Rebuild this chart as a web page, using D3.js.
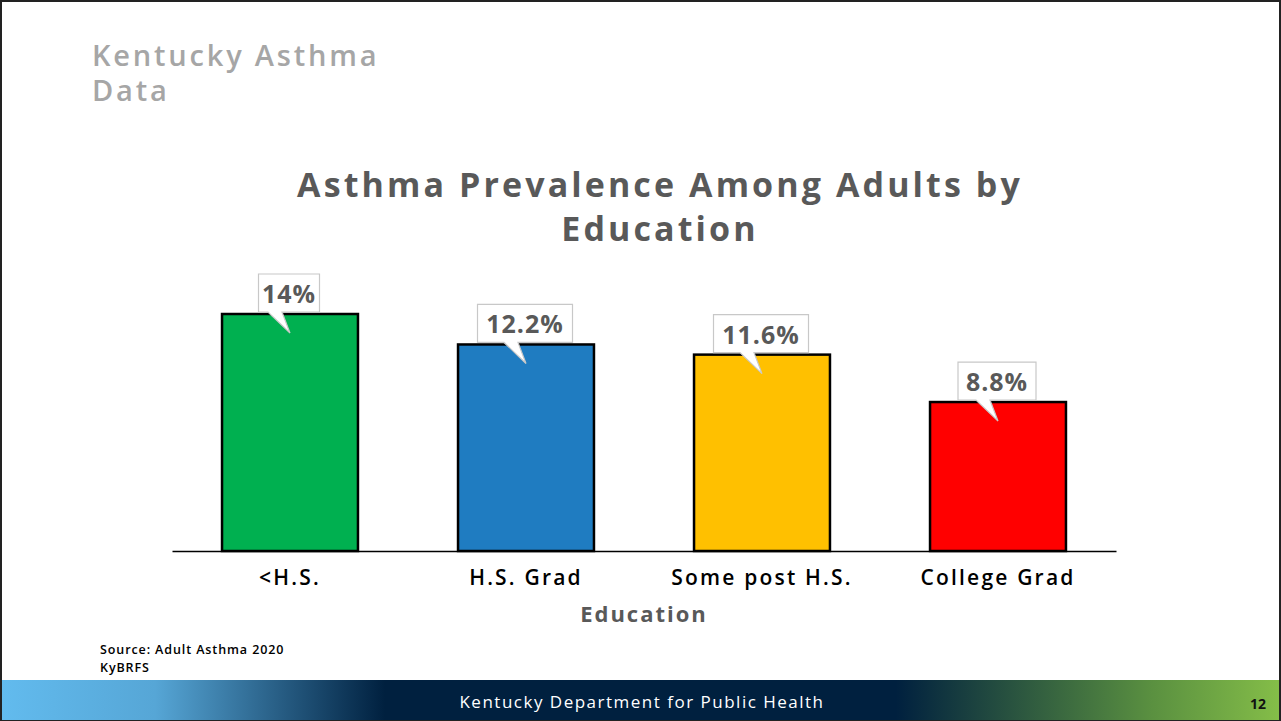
<!DOCTYPE html>
<html><head><meta charset="utf-8">
<script src="https://cdn.jsdelivr.net/npm/d3@7"></script>
<style>body{margin:0;background:#fff}svg{display:block;font-family:"Open Sans","Noto Sans",sans-serif}</style>
</head><body><svg id="c" width="1281" height="721"></svg>
<script>
// data
const categories = ['<H.S.', 'H.S. Grad', 'Some post H.S.', 'College Grad'];
const values = [14, 12.2, 11.6, 8.8];
const valueLabels = ['14%', '12.2%', '11.6%', '8.8%'];
const colors = ['#00b050', '#1f7cc1', '#ffc000', '#ff0000'];

const svg = d3.select('#c');

// footer gradient
const defs = svg.append('defs');
const grad = defs.append('linearGradient').attr('id', 'foot');
[[0, '#62bbee'], [0.12, '#56a6d6'], [0.3, '#00203f'], [0.7, '#00203f'], [0.9, '#5a9040'], [1, '#84bd48']]
  .forEach(([o, c]) => grad.append('stop').attr('offset', o).attr('stop-color', c));

svg.append('rect').attr('x', 1).attr('y', 1).attr('width', 1279).attr('height', 719)
  .attr('fill', '#fff').attr('stroke', '#222').attr('stroke-width', 2);
svg.append('rect').attr('x', 2).attr('y', 680).attr('width', 1277).attr('height', 40).attr('fill', 'url(#foot)');
svg.append('text').attr('x', 642).attr('y', 708).attr('text-anchor', 'middle')
  .attr('fill', '#fff').style('font-size', '17px').style('letter-spacing', '1.5px')
  .text('Kentucky Department for Public Health');
svg.append('text').attr('x', 1258).attr('y', 709).attr('text-anchor', 'middle')
  .attr('fill', '#111').style('font-size', '14px').style('font-weight', 'bold').text('12');

// header
[['Kentucky Asthma', 66], ['Data', 101]].forEach(([t, y]) =>
  svg.append('text').attr('x', 92).attr('y', y).attr('fill', '#a6a6a6')
    .style('font-size', '29px').style('font-weight', 600).style('letter-spacing', '2.8px').text(t));

// title
[['Asthma Prevalence Among Adults by', 197], ['Education', 241]].forEach(([t, y]) =>
  svg.append('text').attr('x', 660).attr('y', y).attr('text-anchor', 'middle').attr('fill', '#595959')
    .style('font-size', '34px').style('font-weight', 'bold').style('letter-spacing', '3.1px').text(t));

// scales
const x = d3.scaleBand().domain(categories).range([172, 1116]).paddingInner(0.424).paddingOuter(0.212);
const y = d3.scaleLinear().domain([0, 14]).range([551, 314]);

svg.selectAll('rect.bar').data(values).join('rect').attr('class', 'bar')
  .attr('x', (d, i) => x(categories[i])).attr('y', d => y(d))
  .attr('width', x.bandwidth()).attr('height', d => y(0) - y(d))
  .attr('fill', (d, i) => colors[i]).attr('stroke', '#000').attr('stroke-width', 2.5);

// axis
const ax = svg.append('g').attr('transform', 'translate(0,551)')
  .call(d3.axisBottom(x).tickSize(0).tickPadding(19).tickSizeOuter(0));
ax.select('.domain').attr('stroke', '#000').attr('stroke-width', 1.5);
ax.selectAll('text').attr('fill', '#000').style('font-size', '21px').style('font-weight', 600)
  .style('letter-spacing', '2.2px').style('font-family', '"Open Sans","Noto Sans",sans-serif');
svg.append('text').attr('x', 644).attr('y', 622).attr('text-anchor', 'middle').attr('fill', '#595959')
  .style('font-size', '22px').style('font-weight', 'bold').style('letter-spacing', '2px').text('Education');

// callouts
values.forEach((v, i) => {
  const cx = x(categories[i]) + x.bandwidth() / 2;
  const top = y(v);
  const label = valueLabels[i];
  const w = label.length * 17 + 10, h = 38;
  const bx = cx - 1 - w / 2, by = top - 2 - h;
  const g = svg.append('g');
  g.append('path')
    .attr('d', `M${bx},${by}H${bx + w}V${by + h}H${cx - 8}L${cx},${top + 19}L${cx - 22},${by + h}H${bx}Z`)
    .attr('fill', '#fff').attr('stroke', '#c8c8c8').attr('stroke-width', 1.2);
  g.append('text').attr('x', bx + w / 2).attr('y', by + 29).attr('text-anchor', 'middle')
    .attr('fill', '#595959').style('font-size', '25px').style('font-weight', 'bold')
    .style('letter-spacing', '1px').text(label);
});

// source
[['Source: Adult Asthma 2020', 654], ['KyBRFS', 672]].forEach(([t, yy]) =>
  svg.append('text').attr('x', 100).attr('y', yy).attr('fill', '#000')
    .style('font-size', '12.5px').style('font-weight', 600).style('letter-spacing', '0.9px').text(t));
</script></body></html>
